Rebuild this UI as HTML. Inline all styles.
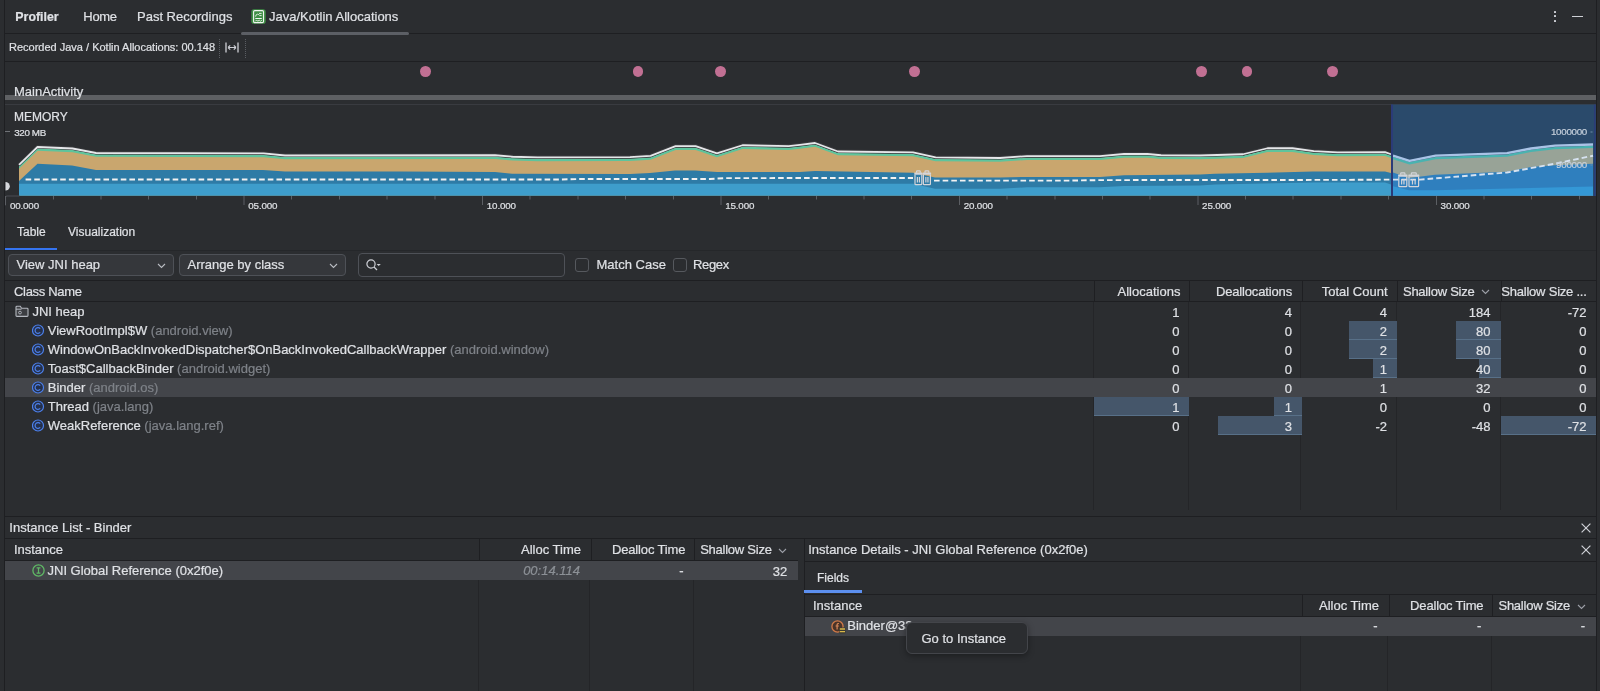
<!DOCTYPE html>
<html><head><meta charset="utf-8"><title>Profiler</title>
<style>
html,body{margin:0;padding:0;}
body{width:1600px;height:691px;overflow:hidden;position:relative;background:#2B2D30;font-family:"Liberation Sans", Arial, sans-serif;font-size:13px;color:#DFE1E5;}
.t{position:absolute;white-space:nowrap;line-height:13px;-webkit-text-stroke:0.2px;}
#root{position:absolute;left:0;top:0;width:1600px;height:691px;will-change:transform;}
.r{position:absolute;}
svg{display:block;}
</style></head><body><div id="root">
<div class="r" style="left:4px;top:0px;width:1px;height:691px;background:#1E1F22;"></div>
<div class="r" style="left:1596px;top:0px;width:1px;height:691px;background:#1E1F22;"></div>
<div class="r" style="left:5px;top:33px;width:1591px;height:1px;background:#1E1F22;"></div>
<div class="t" style="left:15.3px;top:10.50px;font-size:12.4px;line-height:12.4px;font-weight:700;">Profiler</div>
<div class="t" style="left:83.3px;top:10.00px;letter-spacing:-0.3px;">Home</div>
<div class="t" style="left:137px;top:10.00px;">Past Recordings</div>
<div class="t" style="left:269px;top:10.00px;">Java/Kotlin Allocations</div>
<div class="r" style="left:241.3px;top:32px;width:168px;height:2.8px;background:#5C5F65;border-radius:1.5px;"></div>
<svg class="r" style="left:251px;top:9px" width="15" height="15" viewBox="0 0 15 15">
<rect x="0.3" y="0.2" width="14.4" height="14.6" rx="2.6" fill="#3F8F45"/>
<rect x="2.6" y="1.6" width="9.9" height="12" rx="1.2" fill="none" stroke="#F0F4F0" stroke-width="1.1"/>
<path d="M4.3 9.5h6.5" stroke="#F0F4F0" stroke-width="1"/>
<path d="M4.6 7.6q0-2.2 2-2.4q1.4.2 1.9 1.2M8 4.4h2.6M8.6 6.6h2" fill="none" stroke="#F0F4F0" stroke-width="0.9"/>
<path d="M4.3 12.3l1.3-1.3 1.3 1.3 1.3-1.3 1.3 1.3 1.3-1.3" fill="none" stroke="#F0F4F0" stroke-width="0.9"/>
</svg>
<div class="r" style="left:1554px;top:11.2px;width:2px;height:2px;background:#CED0D6;border-radius:0.5px;"></div>
<div class="r" style="left:1554px;top:15.3px;width:2px;height:2px;background:#CED0D6;border-radius:0.5px;"></div>
<div class="r" style="left:1554px;top:19.6px;width:2px;height:2px;background:#CED0D6;border-radius:0.5px;"></div>
<div class="r" style="left:1572px;top:15.8px;width:11px;height:1.5px;background:#CED0D6;"></div>
<div class="t" style="left:9px;top:41.69px;font-size:11px;line-height:11px;">Recorded Java / Kotlin Allocations: 00.148</div>
<div class="r" style="left:219px;top:39px;width:0;height:19px;border-left:1px dotted #5A5D62"></div>
<div class="r" style="left:245px;top:39px;width:0;height:19px;border-left:1px dotted #5A5D62"></div>
<svg class="r" style="left:225px;top:42px" width="14" height="11" viewBox="0 0 14 11">
<path d="M1 0.5v10M13 0.5v10" stroke="#CED0D6" stroke-width="1.3"/>
<path d="M3 5.5h8M3 5.5l2.2-2.2M3 5.5l2.2 2.2M11 5.5l-2.2-2.2M11 5.5l-2.2 2.2" stroke="#CED0D6" stroke-width="1.1" fill="none"/>
</svg>
<div class="r" style="left:5px;top:61px;width:1591px;height:1px;background:#1E1F22;"></div>
<div class="r" style="left:420.1px;top:66.4px;width:10.8px;height:10.8px;border-radius:50%;background:#C17093"></div>
<div class="r" style="left:632.6px;top:66.4px;width:10.8px;height:10.8px;border-radius:50%;background:#C17093"></div>
<div class="r" style="left:715.1px;top:66.4px;width:10.8px;height:10.8px;border-radius:50%;background:#C17093"></div>
<div class="r" style="left:908.8px;top:66.4px;width:10.8px;height:10.8px;border-radius:50%;background:#C17093"></div>
<div class="r" style="left:1195.8px;top:66.4px;width:10.8px;height:10.8px;border-radius:50%;background:#C17093"></div>
<div class="r" style="left:1241.6px;top:66.4px;width:10.8px;height:10.8px;border-radius:50%;background:#C17093"></div>
<div class="r" style="left:1327.3px;top:66.4px;width:10.8px;height:10.8px;border-radius:50%;background:#C17093"></div>
<div class="r" style="left:5px;top:95px;width:1591px;height:4.5px;background:#5E6063;"></div>
<div class="t" style="left:14px;top:84.50px;">MainActivity</div>
<div class="r" style="left:5px;top:104px;width:1591px;height:1px;background:#393B40;"></div>
<svg style="position:absolute;left:0;top:100px" width="1600" height="120" viewBox="0 100 1600 120">
<rect x="1391" y="104.5" width="205" height="91.5" fill="#2A4A6B"/>
<polygon points="19,165.9 37.5,148 72.5,149.5 96,154 263.75,154.4 285,156.5 495,156.25 512.5,157.75 537.5,158.4 630,158.1 650.6,156.9 675.6,147.1 695.6,147.1 716.9,154.4 742.5,146.25 788.75,147.1 800,145.9 815,144 838,152.5 913,153.4 935.6,158.4 1000,159 1027,157.1 1100,157.1 1124,155 1147.5,155 1161,156.25 1200,156.5 1243,155.25 1267.5,149.25 1292.5,149.25 1313.75,152.1 1337.5,153.4 1385,153.1 1391,155.25 1391,195.5 19,195.5" fill="#4A4B4E"/>
<polygon points="19,166.5 37.5,148.6 72.5,150.1 96,154.6 263.75,155 285,157.1 495,156.85 512.5,158.35 537.5,159 630,158.7 650.6,157.5 675.6,147.7 695.6,147.7 716.9,155 742.5,146.85 788.75,147.7 800,146.5 815,144.6 838,153.1 913,154 935.6,159 1000,159.6 1027,157.7 1100,157.7 1124,155.6 1147.5,155.6 1161,156.85 1200,157.1 1243,155.85 1267.5,149.85 1292.5,149.85 1313.75,152.7 1337.5,154 1385,153.7 1391,155.85 1391,195.5 19,195.5" fill="#5EC49C"/>
<polygon points="19,168.7 37.5,150.8 72.5,152.3 96,156.8 263.75,157.2 285,159.3 495,159.05 512.5,160.55 537.5,161.2 630,160.9 650.6,159.7 675.6,149.9 695.6,149.9 716.9,157.2 742.5,149.05 788.75,149.9 800,148.7 815,146.8 838,155.3 913,156.2 935.6,161.2 1000,161.8 1027,159.9 1100,159.9 1124,157.8 1147.5,157.8 1161,159.05 1200,159.3 1243,158.05 1267.5,152.05 1292.5,152.05 1313.75,154.9 1337.5,156.2 1385,155.9 1391,158.05 1391,195.5 19,195.5" fill="#C9A66E"/>
<polygon points="19,181 37.5,163.75 72,165.6 96,170 263,170 285,171.5 400,171.5 495,172 512,173.75 630,174 650,173 675,170.6 695,170.6 717,172 800,171.9 815,171 913,172.75 935,177.5 1000,177.5 1027,176.9 1100,176.9 1124,175.25 1200,174.4 1215,173.75 1267,172.75 1313,171.5 1385,171.5 1391,173 1391,195.5 19,195.5" fill="#2E7BA6"/>
<polygon points="19,183.75 913,183.75 935,188.75 1000,188.75 1027,187.25 1100,187.25 1124,185.9 1200,185.6 1215,184.4 1313,182.5 1385,182.5 1391,184.4 1391,195.5 19,195.5" fill="#3E9DCB"/>
<polyline points="19,164.6 37.5,146.7 72.5,148.2 96,152.7 263.75,153.1 285,155.2 495,154.95 512.5,156.45 537.5,157.1 630,156.8 650.6,155.6 675.6,145.8 695.6,145.8 716.9,153.1 742.5,144.95 788.75,145.8 800,144.6 815,142.7 838,151.2 913,152.1 935.6,157.1 1000,157.7 1027,155.8 1100,155.8 1124,153.7 1147.5,153.7 1161,154.95 1200,155.2 1243,153.95 1267.5,147.95 1292.5,147.95 1313.75,150.8 1337.5,152.1 1385,151.8 1391,153.95" fill="none" stroke="#3A3B3E" stroke-width="3.2" stroke-linejoin="round"/>
<polyline points="19,164.9 37.5,147 72.5,148.5 96,153 263.75,153.4 285,155.5 495,155.25 512.5,156.75 537.5,157.4 630,157.1 650.6,155.9 675.6,146.1 695.6,146.1 716.9,153.4 742.5,145.25 788.75,146.1 800,144.9 815,143 838,151.5 913,152.4 935.6,157.4 1000,158 1027,156.1 1100,156.1 1124,154 1147.5,154 1161,155.25 1200,155.5 1243,154.25 1267.5,148.25 1292.5,148.25 1313.75,151.1 1337.5,152.4 1385,152.1 1391,154.25" fill="none" stroke="#E6E7EA" stroke-width="1.8" stroke-linejoin="round"/>
<polygon points="1393,156.8 1409.5,162.1 1435.7,156.9 1507,154.4 1531,149.7 1555,146.9 1593,145.7 1593,195.5 1393,195.5" fill="#49B3B0"/>
<polygon points="1393,159.2 1409.5,164.5 1435.7,159.3 1507,156.8 1531,152.1 1555,149.3 1593,148.1 1593,195.5 1393,195.5" fill="#98A397"/>
<polygon points="1393,172.5 1409,178 1435,174.8 1507,171.7 1531,166.9 1555,165.3 1593,163.7 1593,195.5 1393,195.5" fill="#2F7FBE"/>
<polygon points="1393,186.3 1409,190.3 1435,190.3 1593,186.5 1593,195.5 1393,195.5" fill="#3498D6"/>
<polyline points="1393,155.6 1409.5,160.9 1435.7,155.7 1507,153.2 1531,148.5 1555,145.7 1593,144.5" fill="none" stroke="#A9C3E6" stroke-width="2.3" stroke-linejoin="round"/>
<polyline points="25.6,179.5 560,179.5 580,179 710,179 725,178.1 913,178" fill="none" stroke="#F2F2F2" stroke-width="1.9" stroke-dasharray="5.6 3.05"/>
<polyline points="934,180.6 1070,180.6 1100,180.1 1340,179.9 1391,179.6" fill="none" stroke="#F2F2F2" stroke-width="1.9" stroke-dasharray="5.6 3.05"/>
<polyline points="1393,179.6 1420,179.6 1440,178 1507,172.5 1555,163.7 1593,155.7" fill="none" stroke="#D6E2F0" stroke-width="1.9" stroke-dasharray="5.6 3.05"/>
<rect x="1391" y="104.5" width="2" height="91.5" fill="#2B3B78"/>
<rect x="1594" y="104.5" width="1.5" height="91.5" fill="#2B3B78"/>
<path d="M5.5 182 a4.3 4.3 0 0 1 0 8.6 z" fill="#D5D7DB"/>
<g fill="none" stroke="#D3D5DA" stroke-width="1.2"><path d="M916.55 172.79999999999998v-1.2q0-.8.8-.8h2.10q.8 0 .8.8v1.2"/><rect x="914.30" y="172.6" width="8.20" height="2.1" rx="0.5" fill="#D3D5DA" stroke="none"/><path d="M915.00 174.7v9.2q0 .8.8.8h5.20q.8 0 .8-.8v-9.2"/><path d="M917.39 177.0v5.5M919.41 177.0v5.5"/></g>
<g fill="none" stroke="#D3D5DA" stroke-width="1.2"><path d="M925.01 172.79999999999998v-1.2q0-.8.8-.8h2.18q.8 0 .8.8v1.2"/><rect x="922.70" y="172.6" width="8.40" height="2.1" rx="0.5" fill="#D3D5DA" stroke="none"/><path d="M923.40 174.7v9.2q0 .8.8.8h5.40q.8 0 .8-.8v-9.2"/><path d="M925.87 177.0v5.5M927.93 177.0v5.5"/></g>
<g fill="none" stroke="#D3D5DA" stroke-width="1.2"><path d="M1400.69 174.79999999999998v-1.2q0-.8.8-.8h2.62q.8 0 .8.8v1.2"/><rect x="1398.10" y="174.6" width="9.40" height="2.1" rx="0.5" fill="#D3D5DA" stroke="none"/><path d="M1398.80 176.7v9.2q0 .8.8.8h6.40q.8 0 .8-.8v-9.2"/><path d="M1401.65 179.0v5.5M1403.95 179.0v5.5"/></g>
<g fill="none" stroke="#D3D5DA" stroke-width="1.2"><path d="M1411.34 174.79999999999998v-1.2q0-.8.8-.8h3.33q.8 0 .8.8v1.2"/><rect x="1408.30" y="174.6" width="11.00" height="2.1" rx="0.5" fill="#D3D5DA" stroke="none"/><path d="M1409.00 176.7v9.2q0 .8.8.8h8.00q.8 0 .8-.8v-9.2"/><path d="M1412.46 179.0v5.5M1415.14 179.0v5.5"/></g>
<text x="1587" y="135.3" text-anchor="end" font-family="Liberation Sans, Arial, sans-serif" font-size="9.8" letter-spacing="-0.3" fill="#C6D0DC" stroke="#C6D0DC" stroke-width="0.2">1000000</text>
<text x="1587" y="168.3" text-anchor="end" font-family="Liberation Sans, Arial, sans-serif" font-size="9.8" letter-spacing="-0.3" fill="#C6D0DC" stroke="#C6D0DC" stroke-width="0.2">900000</text>
<rect x="1590.5" y="131.5" width="2" height="1" fill="#6F8BA8"/>
<rect x="1590.5" y="164.5" width="2" height="1" fill="#6F8BA8"/>
</svg>
<svg style="position:absolute;left:0;top:190px" width="1600" height="30" viewBox="0 190 1600 30">
<path d="M5.5 205.5V197.5q0-1.5 1.5-1.5H19.5" fill="none" stroke="#4B4D52" stroke-width="1"/>
<line x1="5.5" y1="196" x2="5.5" y2="205" stroke="#5C5F64" stroke-width="1"/>
<text x="9.9" y="208.9" font-family="Liberation Sans, Arial, sans-serif" font-size="9.8" letter-spacing="-0.15" fill="#DFE1E5" stroke="#DFE1E5" stroke-width="0.2">00.000</text>
<line x1="53.5" y1="196" x2="53.5" y2="199.5" stroke="#5C5F64" stroke-width="1"/>
<line x1="101.0" y1="196" x2="101.0" y2="199.5" stroke="#5C5F64" stroke-width="1"/>
<line x1="148.5" y1="196" x2="148.5" y2="199.5" stroke="#5C5F64" stroke-width="1"/>
<line x1="196.5" y1="196" x2="196.5" y2="199.5" stroke="#5C5F64" stroke-width="1"/>
<line x1="244.0" y1="196" x2="244.0" y2="205" stroke="#5C5F64" stroke-width="1"/>
<text x="248.3" y="208.9" font-family="Liberation Sans, Arial, sans-serif" font-size="9.8" letter-spacing="-0.15" fill="#DFE1E5" stroke="#DFE1E5" stroke-width="0.2">05.000</text>
<line x1="291.5" y1="196" x2="291.5" y2="199.5" stroke="#5C5F64" stroke-width="1"/>
<line x1="339.5" y1="196" x2="339.5" y2="199.5" stroke="#5C5F64" stroke-width="1"/>
<line x1="387.0" y1="196" x2="387.0" y2="199.5" stroke="#5C5F64" stroke-width="1"/>
<line x1="435.0" y1="196" x2="435.0" y2="199.5" stroke="#5C5F64" stroke-width="1"/>
<line x1="482.5" y1="196" x2="482.5" y2="205" stroke="#5C5F64" stroke-width="1"/>
<text x="486.8" y="208.9" font-family="Liberation Sans, Arial, sans-serif" font-size="9.8" letter-spacing="-0.15" fill="#DFE1E5" stroke="#DFE1E5" stroke-width="0.2">10.000</text>
<line x1="530.0" y1="196" x2="530.0" y2="199.5" stroke="#5C5F64" stroke-width="1"/>
<line x1="578.0" y1="196" x2="578.0" y2="199.5" stroke="#5C5F64" stroke-width="1"/>
<line x1="625.5" y1="196" x2="625.5" y2="199.5" stroke="#5C5F64" stroke-width="1"/>
<line x1="673.5" y1="196" x2="673.5" y2="199.5" stroke="#5C5F64" stroke-width="1"/>
<line x1="721.0" y1="196" x2="721.0" y2="205" stroke="#5C5F64" stroke-width="1"/>
<text x="725.2" y="208.9" font-family="Liberation Sans, Arial, sans-serif" font-size="9.8" letter-spacing="-0.15" fill="#DFE1E5" stroke="#DFE1E5" stroke-width="0.2">15.000</text>
<line x1="768.5" y1="196" x2="768.5" y2="199.5" stroke="#5C5F64" stroke-width="1"/>
<line x1="816.5" y1="196" x2="816.5" y2="199.5" stroke="#5C5F64" stroke-width="1"/>
<line x1="864.0" y1="196" x2="864.0" y2="199.5" stroke="#5C5F64" stroke-width="1"/>
<line x1="911.5" y1="196" x2="911.5" y2="199.5" stroke="#5C5F64" stroke-width="1"/>
<line x1="959.5" y1="196" x2="959.5" y2="205" stroke="#5C5F64" stroke-width="1"/>
<text x="963.7" y="208.9" font-family="Liberation Sans, Arial, sans-serif" font-size="9.8" letter-spacing="-0.15" fill="#DFE1E5" stroke="#DFE1E5" stroke-width="0.2">20.000</text>
<line x1="1007.0" y1="196" x2="1007.0" y2="199.5" stroke="#5C5F64" stroke-width="1"/>
<line x1="1055.0" y1="196" x2="1055.0" y2="199.5" stroke="#5C5F64" stroke-width="1"/>
<line x1="1102.5" y1="196" x2="1102.5" y2="199.5" stroke="#5C5F64" stroke-width="1"/>
<line x1="1150.0" y1="196" x2="1150.0" y2="199.5" stroke="#5C5F64" stroke-width="1"/>
<line x1="1198.0" y1="196" x2="1198.0" y2="205" stroke="#5C5F64" stroke-width="1"/>
<text x="1202.1" y="208.9" font-family="Liberation Sans, Arial, sans-serif" font-size="9.8" letter-spacing="-0.15" fill="#DFE1E5" stroke="#DFE1E5" stroke-width="0.2">25.000</text>
<line x1="1245.5" y1="196" x2="1245.5" y2="199.5" stroke="#5C5F64" stroke-width="1"/>
<line x1="1293.0" y1="196" x2="1293.0" y2="199.5" stroke="#5C5F64" stroke-width="1"/>
<line x1="1341.0" y1="196" x2="1341.0" y2="199.5" stroke="#5C5F64" stroke-width="1"/>
<line x1="1388.5" y1="196" x2="1388.5" y2="199.5" stroke="#5C5F64" stroke-width="1"/>
<line x1="1436.5" y1="196" x2="1436.5" y2="205" stroke="#5C5F64" stroke-width="1"/>
<text x="1440.6" y="208.9" font-family="Liberation Sans, Arial, sans-serif" font-size="9.8" letter-spacing="-0.15" fill="#DFE1E5" stroke="#DFE1E5" stroke-width="0.2">30.000</text>
<line x1="1484.0" y1="196" x2="1484.0" y2="199.5" stroke="#5C5F64" stroke-width="1"/>
<line x1="1531.5" y1="196" x2="1531.5" y2="199.5" stroke="#5C5F64" stroke-width="1"/>
<line x1="1579.5" y1="196" x2="1579.5" y2="199.5" stroke="#5C5F64" stroke-width="1"/>
</svg>
<div class="t" style="left:14px;top:110.84px;font-size:12px;line-height:12px;">MEMORY</div>
<div class="r" style="left:5px;top:131px;width:5px;height:1px;background:#6F7277;"></div>
<div class="t" style="left:14.2px;top:127.70px;font-size:9.8px;line-height:9.8px;letter-spacing:-0.35px;">320 MB</div>
<div class="t" style="left:17px;top:225.54px;font-size:12px;line-height:12px;">Table</div>
<div class="t" style="left:68px;top:225.54px;font-size:12px;line-height:12px;">Visualization</div>
<div class="r" style="left:5px;top:250px;width:1591px;height:1px;background:#25272A;"></div>
<div class="r" style="left:5px;top:247.6px;width:52px;height:2.5px;background:#3574F0;"></div>
<div class="r" style="left:8px;top:254px;width:164px;height:20px;border:1px solid #4E5157;border-radius:4px;background:#35373B"></div>
<div class="t" style="left:16.5px;top:258.20px;">View JNI heap</div>
<svg class="r" style="left:157px;top:263px" width="9" height="6" viewBox="0 0 9 6"><path d="M1 1l3.5 3.5L8 1" fill="none" stroke="#B9BCC2" stroke-width="1.1"/></svg>
<div class="r" style="left:179px;top:254px;width:165px;height:20px;border:1px solid #4E5157;border-radius:4px;background:#35373B"></div>
<div class="t" style="left:187.5px;top:258.20px;">Arrange by class</div>
<svg class="r" style="left:329px;top:263px" width="9" height="6" viewBox="0 0 9 6"><path d="M1 1l3.5 3.5L8 1" fill="none" stroke="#B9BCC2" stroke-width="1.1"/></svg>
<div class="r" style="left:358px;top:252.8px;width:205px;height:22px;border:1px solid #4E5157;border-radius:4px;background:#2B2D30"></div>
<svg class="r" style="left:366px;top:258px" width="16" height="14" viewBox="0 0 16 14">
<circle cx="5" cy="6" r="4.1" fill="none" stroke="#CED0D6" stroke-width="1.2"/>
<path d="M8 9l3 3" stroke="#CED0D6" stroke-width="1.3"/>
<path d="M10.6 6h4.2l-2.1 2.1z" fill="#CED0D6"/>
</svg>
<div class="r" style="left:575px;top:258px;width:12px;height:12px;border:1px solid #56595E;border-radius:3px"></div>
<div class="r" style="left:672.5px;top:258px;width:12px;height:12px;border:1px solid #56595E;border-radius:3px"></div>
<div class="t" style="left:596.5px;top:258.20px;">Match Case</div>
<div class="t" style="left:693px;top:258.20px;letter-spacing:-0.35px;">Regex</div>
<div class="r" style="left:5px;top:280px;width:1591px;height:1px;background:#1E1F22;"></div>
<div class="t" style="left:14px;top:284.50px;letter-spacing:-0.32px;">Class Name</div>
<div class="r" style="left:1094px;top:281px;width:1px;height:20px;background:#1E1F22;"></div>
<div class="r" style="left:1189px;top:281px;width:1px;height:20px;background:#1E1F22;"></div>
<div class="r" style="left:1302px;top:281px;width:1px;height:20px;background:#1E1F22;"></div>
<div class="r" style="left:1397px;top:281px;width:1px;height:20px;background:#1E1F22;"></div>
<div class="r" style="left:1501px;top:281px;width:1px;height:20px;background:#1E1F22;"></div>
<div class="t" style="right:419.5999999999999px;top:284.50px;">Allocations</div>
<div class="t" style="right:308px;top:284.50px;letter-spacing:-0.15px;">Deallocations</div>
<div class="t" style="right:212.5px;top:284.50px;">Total Count</div>
<div class="t" style="right:125.5px;top:284.50px;letter-spacing:-0.24px;">Shallow Size</div>
<svg class="r" style="left:1481px;top:289px" width="9" height="6" viewBox="0 0 9 6"><path d="M1 1l3.5 3.5L8 1" fill="none" stroke="#9DA0A8" stroke-width="1.1"/></svg>
<div class="t" style="left:1501.3px;top:284.50px;letter-spacing:-0.22px;">Shallow Size ...</div>
<div class="r" style="left:5px;top:301px;width:1591px;height:1px;background:#1E1F22;"></div>
<div class="r" style="left:1093px;top:302px;width:1px;height:208px;background:#242528;"></div>
<div class="r" style="left:1188px;top:302px;width:1px;height:208px;background:#242528;"></div>
<div class="r" style="left:1300px;top:302px;width:1px;height:208px;background:#242528;"></div>
<div class="r" style="left:1396px;top:302px;width:1px;height:208px;background:#242528;"></div>
<div class="r" style="left:1500px;top:302px;width:1px;height:208px;background:#242528;"></div>
<svg class="r" style="left:15.3px;top:305.4px" width="14" height="12" viewBox="0 0 14 12">
<path d="M1 2.2v8.3q0 .9.9.9h10.2q.9 0 .9-.9V4.1q0-.9-.9-.9H6.6L5.3 1.3H1.9q-.9 0-.9.9z" fill="#3C3E42" stroke="#B4B8BF" stroke-width="1.1"/>
<path d="M1 4.2h5.5" stroke="#B4B8BF" stroke-width="1"/>
<circle cx="5" cy="7.6" r="1.4" fill="none" stroke="#B4B8BF" stroke-width="0.9"/></svg>
<div class="t" style="left:32.4px;top:305.20px;">JNI heap</div>
<div class="t" style="right:420.5px;top:306.00px;">1</div>
<div class="t" style="right:308px;top:306.00px;">4</div>
<div class="t" style="right:213px;top:306.00px;">4</div>
<div class="t" style="right:109.5px;top:306.00px;">184</div>
<div class="t" style="right:13.5px;top:306.00px;">-72</div>
<div class="r" style="left:1349px;top:321px;width:48px;height:19px;background:#45566A;"></div>
<div class="r" style="left:1349px;top:338.5px;width:48px;height:1.5px;background:#587088;"></div>
<div class="r" style="left:1456px;top:321px;width:44.5px;height:19px;background:#45566A;"></div>
<div class="r" style="left:1456px;top:338.5px;width:44.5px;height:1.5px;background:#587088;"></div>
<svg class="r" style="left:32px;top:324.4px" width="13" height="13" viewBox="0 0 13 13">
<circle cx="6" cy="6.5" r="5.5" fill="#25304A" stroke="#4C80EC" stroke-width="1.2"/>
<path d="M8.2 4.6A2.9 2.9 0 1 0 8.2 8.4" fill="none" stroke="#4C80EC" stroke-width="1.2"/></svg>
<div class="t" style="left:47.75px;top:324.20px;">ViewRootImpl$W <span style="color:#7E8288">(android.view)</span></div>
<div class="t" style="right:420.5px;top:325.00px;">0</div>
<div class="t" style="right:308px;top:325.00px;">0</div>
<div class="t" style="right:213px;top:325.00px;">2</div>
<div class="t" style="right:109.5px;top:325.00px;">80</div>
<div class="t" style="right:13.5px;top:325.00px;">0</div>
<div class="r" style="left:1349px;top:340px;width:48px;height:19px;background:#45566A;"></div>
<div class="r" style="left:1349px;top:357.5px;width:48px;height:1.5px;background:#587088;"></div>
<div class="r" style="left:1456px;top:340px;width:44.5px;height:19px;background:#45566A;"></div>
<div class="r" style="left:1456px;top:357.5px;width:44.5px;height:1.5px;background:#587088;"></div>
<svg class="r" style="left:32px;top:343.4px" width="13" height="13" viewBox="0 0 13 13">
<circle cx="6" cy="6.5" r="5.5" fill="#25304A" stroke="#4C80EC" stroke-width="1.2"/>
<path d="M8.2 4.6A2.9 2.9 0 1 0 8.2 8.4" fill="none" stroke="#4C80EC" stroke-width="1.2"/></svg>
<div class="t" style="left:47.75px;top:343.20px;">WindowOnBackInvokedDispatcher$OnBackInvokedCallbackWrapper <span style="color:#7E8288">(android.window)</span></div>
<div class="t" style="right:420.5px;top:344.00px;">0</div>
<div class="t" style="right:308px;top:344.00px;">0</div>
<div class="t" style="right:213px;top:344.00px;">2</div>
<div class="t" style="right:109.5px;top:344.00px;">80</div>
<div class="t" style="right:13.5px;top:344.00px;">0</div>
<div class="r" style="left:1373px;top:359px;width:24px;height:19px;background:#45566A;"></div>
<div class="r" style="left:1373px;top:376.5px;width:24px;height:1.5px;background:#587088;"></div>
<div class="r" style="left:1479px;top:359px;width:21.5px;height:19px;background:#45566A;"></div>
<div class="r" style="left:1479px;top:376.5px;width:21.5px;height:1.5px;background:#587088;"></div>
<svg class="r" style="left:32px;top:362.4px" width="13" height="13" viewBox="0 0 13 13">
<circle cx="6" cy="6.5" r="5.5" fill="#25304A" stroke="#4C80EC" stroke-width="1.2"/>
<path d="M8.2 4.6A2.9 2.9 0 1 0 8.2 8.4" fill="none" stroke="#4C80EC" stroke-width="1.2"/></svg>
<div class="t" style="left:47.75px;top:362.20px;">Toast$CallbackBinder <span style="color:#7E8288">(android.widget)</span></div>
<div class="t" style="right:420.5px;top:363.00px;">0</div>
<div class="t" style="right:308px;top:363.00px;">0</div>
<div class="t" style="right:213px;top:363.00px;">1</div>
<div class="t" style="right:109.5px;top:363.00px;">40</div>
<div class="t" style="right:13.5px;top:363.00px;">0</div>
<div class="r" style="left:5px;top:378px;width:1591px;height:19px;background:#43454A;"></div>
<svg class="r" style="left:32px;top:381.4px" width="13" height="13" viewBox="0 0 13 13">
<circle cx="6" cy="6.5" r="5.5" fill="#25304A" stroke="#4C80EC" stroke-width="1.2"/>
<path d="M8.2 4.6A2.9 2.9 0 1 0 8.2 8.4" fill="none" stroke="#4C80EC" stroke-width="1.2"/></svg>
<div class="t" style="left:47.75px;top:381.20px;">Binder <span style="color:#7E8288">(android.os)</span></div>
<div class="t" style="right:420.5px;top:382.00px;">0</div>
<div class="t" style="right:308px;top:382.00px;">0</div>
<div class="t" style="right:213px;top:382.00px;">1</div>
<div class="t" style="right:109.5px;top:382.00px;">32</div>
<div class="t" style="right:13.5px;top:382.00px;">0</div>
<div class="r" style="left:1093.6px;top:397px;width:95.40000000000009px;height:19px;background:#45566A;"></div>
<div class="r" style="left:1093.6px;top:414.5px;width:95.40000000000009px;height:1.5px;background:#587088;"></div>
<div class="r" style="left:1274px;top:397px;width:27.59999999999991px;height:19px;background:#45566A;"></div>
<div class="r" style="left:1274px;top:414.5px;width:27.59999999999991px;height:1.5px;background:#587088;"></div>
<svg class="r" style="left:32px;top:400.4px" width="13" height="13" viewBox="0 0 13 13">
<circle cx="6" cy="6.5" r="5.5" fill="#25304A" stroke="#4C80EC" stroke-width="1.2"/>
<path d="M8.2 4.6A2.9 2.9 0 1 0 8.2 8.4" fill="none" stroke="#4C80EC" stroke-width="1.2"/></svg>
<div class="t" style="left:47.75px;top:400.20px;">Thread <span style="color:#7E8288">(java.lang)</span></div>
<div class="t" style="right:420.5px;top:401.00px;">1</div>
<div class="t" style="right:308px;top:401.00px;">1</div>
<div class="t" style="right:213px;top:401.00px;">0</div>
<div class="t" style="right:109.5px;top:401.00px;">0</div>
<div class="t" style="right:13.5px;top:401.00px;">0</div>
<div class="r" style="left:1217.5px;top:416px;width:84.09999999999991px;height:19px;background:#45566A;"></div>
<div class="r" style="left:1217.5px;top:433.5px;width:84.09999999999991px;height:1.5px;background:#587088;"></div>
<div class="r" style="left:1500.5px;top:416px;width:95.5px;height:19px;background:#45566A;"></div>
<div class="r" style="left:1500.5px;top:433.5px;width:95.5px;height:1.5px;background:#587088;"></div>
<svg class="r" style="left:32px;top:419.4px" width="13" height="13" viewBox="0 0 13 13">
<circle cx="6" cy="6.5" r="5.5" fill="#25304A" stroke="#4C80EC" stroke-width="1.2"/>
<path d="M8.2 4.6A2.9 2.9 0 1 0 8.2 8.4" fill="none" stroke="#4C80EC" stroke-width="1.2"/></svg>
<div class="t" style="left:47.75px;top:419.20px;">WeakReference <span style="color:#7E8288">(java.lang.ref)</span></div>
<div class="t" style="right:420.5px;top:420.00px;">0</div>
<div class="t" style="right:308px;top:420.00px;">3</div>
<div class="t" style="right:213px;top:420.00px;">-2</div>
<div class="t" style="right:109.5px;top:420.00px;">-48</div>
<div class="t" style="right:13.5px;top:420.00px;">-72</div>
<div class="r" style="left:5px;top:516px;width:1591px;height:1px;background:#1E1F22;"></div>
<div class="t" style="left:9.3px;top:520.80px;">Instance List - Binder</div>
<svg class="r" style="left:1580.5px;top:522.5px" width="10" height="10" viewBox="0 0 10 10"><path d="M0.6 0.6l8.8 8.8M9.4 0.6L0.6 9.4" stroke="#CED0D6" stroke-width="1.2"/></svg>
<div class="r" style="left:5px;top:538px;width:1591px;height:1px;background:#1E1F22;"></div>
<div class="t" style="left:13.9px;top:543.30px;">Instance</div>
<div class="r" style="left:479px;top:539px;width:1px;height:21px;background:#1E1F22;"></div>
<div class="r" style="left:591px;top:539px;width:1px;height:21px;background:#1E1F22;"></div>
<div class="r" style="left:694px;top:539px;width:1px;height:21px;background:#1E1F22;"></div>
<div class="t" style="right:1019px;top:543.30px;">Alloc Time</div>
<div class="t" style="right:914.7px;top:543.30px;letter-spacing:-0.15px;">Dealloc Time</div>
<div class="t" style="right:828.3px;top:543.30px;letter-spacing:-0.24px;">Shallow Size</div>
<svg class="r" style="left:778px;top:548px" width="9" height="6" viewBox="0 0 9 6"><path d="M1 1l3.5 3.5L8 1" fill="none" stroke="#9DA0A8" stroke-width="1.1"/></svg>
<div class="r" style="left:5px;top:560px;width:793px;height:1px;background:#1E1F22;"></div>
<div class="r" style="left:478px;top:561px;width:1px;height:130px;background:#242528;"></div>
<div class="r" style="left:589px;top:561px;width:1px;height:130px;background:#242528;"></div>
<div class="r" style="left:693px;top:561px;width:1px;height:130px;background:#242528;"></div>
<div class="r" style="left:5px;top:561px;width:793px;height:19px;background:#43454A;"></div>
<svg class="r" style="left:32px;top:564.3px" width="13" height="13" viewBox="0 0 13 13">
<circle cx="6.5" cy="6.5" r="5.6" fill="none" stroke="#5FB865" stroke-width="1.3"/>
<path d="M4.6 3.8h3.8M4.6 9.2h3.8M6.5 3.8v5.4" fill="none" stroke="#5FB865" stroke-width="1.2"/></svg>
<div class="t" style="left:47.5px;top:564.20px;">JNI Global Reference (0x2f0e)</div>
<div class="t" style="right:1020px;top:564.20px;color:#8C9096;font-style:italic;">00:14.114</div>
<div class="t" style="right:916.5px;top:563.60px;">-</div>
<div class="t" style="right:812.7px;top:565.00px;">32</div>
<div class="r" style="left:804px;top:539px;width:1px;height:152px;background:#1E1F22;"></div>
<div class="t" style="left:808.2px;top:543.00px;">Instance Details - JNI Global Reference (0x2f0e)</div>
<svg class="r" style="left:1580.5px;top:545px" width="10" height="10" viewBox="0 0 10 10"><path d="M0.6 0.6l8.8 8.8M9.4 0.6L0.6 9.4" stroke="#CED0D6" stroke-width="1.2"/></svg>
<div class="r" style="left:805px;top:561px;width:791px;height:1px;background:#1E1F22;"></div>
<div class="t" style="left:817px;top:571.84px;font-size:12px;line-height:12px;">Fields</div>
<div class="r" style="left:804px;top:590px;width:57.5px;height:2.5px;background:#5C8FEF;"></div>
<div class="r" style="left:805px;top:594px;width:791px;height:1px;background:#1E1F22;"></div>
<div class="t" style="left:813px;top:598.70px;">Instance</div>
<div class="r" style="left:1302px;top:595px;width:1px;height:21px;background:#1E1F22;"></div>
<div class="r" style="left:1389px;top:595px;width:1px;height:21px;background:#1E1F22;"></div>
<div class="r" style="left:1492px;top:595px;width:1px;height:21px;background:#1E1F22;"></div>
<div class="t" style="right:221px;top:598.70px;">Alloc Time</div>
<div class="t" style="right:116.59999999999991px;top:598.70px;letter-spacing:-0.15px;">Dealloc Time</div>
<div class="t" style="right:30px;top:598.70px;letter-spacing:-0.24px;">Shallow Size</div>
<svg class="r" style="left:1576.5px;top:603.5px" width="9" height="6" viewBox="0 0 9 6"><path d="M1 1l3.5 3.5L8 1" fill="none" stroke="#9DA0A8" stroke-width="1.1"/></svg>
<div class="r" style="left:805px;top:616px;width:791px;height:1px;background:#1E1F22;"></div>
<div class="r" style="left:1300px;top:617px;width:1px;height:74px;background:#242528;"></div>
<div class="r" style="left:1387px;top:617px;width:1px;height:74px;background:#242528;"></div>
<div class="r" style="left:1491px;top:617px;width:1px;height:74px;background:#242528;"></div>
<div class="r" style="left:805px;top:617px;width:791px;height:19px;background:#43454A;"></div>
<svg class="r" style="left:831px;top:619.5px" width="15" height="14" viewBox="0 0 15 14">
<circle cx="6.5" cy="6.5" r="5.6" fill="#4A3328" stroke="#D27A48" stroke-width="1.3"/>
<path d="M7.9 3.6q-1.6-.4-1.8 1.1v4.8M4.6 6h3.2" fill="none" stroke="#D98A5A" stroke-width="1.2"/>
<rect x="8.3" y="7.6" width="6.2" height="5.8" rx="0.6" fill="#3A3A30"/>
<path d="M8.8 9h5.2M8.8 11.6h5.2" stroke="#D9B84A" stroke-width="1.4"/></svg>
<div class="t" style="left:847.3px;top:619.40px;">Binder@33</div>
<div class="t" style="right:222.4000000000001px;top:619.30px;">-</div>
<div class="t" style="right:118.59999999999991px;top:619.30px;">-</div>
<div class="t" style="right:14.799999999999955px;top:619.30px;">-</div>
<div class="r" style="left:906px;top:621.5px;width:119.5px;height:30px;border:1px solid #43454A;border-radius:6px;background:#2B2D30;box-shadow:0 2px 6px rgba(0,0,0,0.35)"></div>
<div class="t" style="left:921.5px;top:631.60px;">Go to Instance</div>
</div></body></html>
